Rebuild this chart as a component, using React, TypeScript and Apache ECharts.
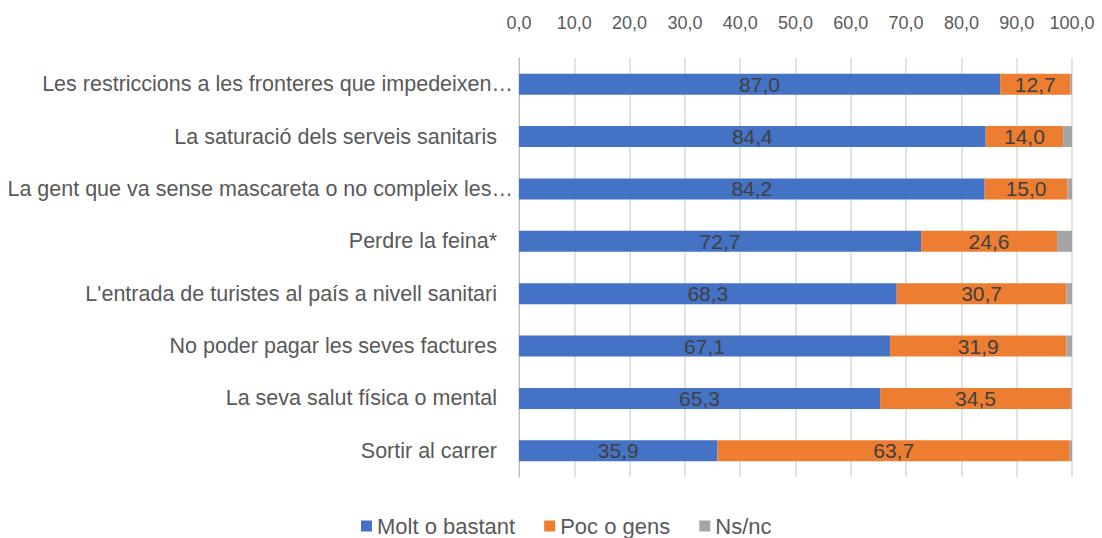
import React, { useEffect, useRef } from "react";
import * as echarts from "echarts";

const categories = [
  "Les restriccions a les fronteres que impedeixen…",
  "La saturació dels serveis sanitaris",
  "La gent que va sense mascareta o no compleix les…",
  "Perdre la feina*",
  "L'entrada de turistes al país a nivell sanitari",
  "No poder pagar les seves factures",
  "La seva salut física o mental",
  "Sortir al carrer",
];
const moltValues = [87.0, 84.4, 84.2, 72.7, 68.3, 67.1, 65.3, 35.9];
const pocValues = [12.7, 14.0, 15.0, 24.6, 30.7, 31.9, 34.5, 63.7];
const nsValues = [0.3, 1.6, 0.8, 2.7, 1.0, 1.0, 0.2, 0.4];
const seriesNames = ["Molt o bastant", "Poc o gens", "Ns/nc"];
const colors = ["#4472C4", "#ED7D31", "#A5A5A5"];

const FONT = "'Liberation Sans', Arial, sans-serif";
const fmt = (v: number) => v.toFixed(1).replace(".", ",");

export default function App() {
  const ref = useRef<HTMLDivElement>(null);
  useEffect(() => {
    if (!ref.current) return;
    const chart = echarts.init(ref.current, undefined, { renderer: "svg" });
    const label = {
      show: true,
      position: "inside",
      color: "#404040",
      fontSize: 21,
      fontFamily: FONT,
      formatter: (p: any) => fmt(p.value),
    };
    chart.setOption({
      animation: false,
      textStyle: { fontFamily: FONT },
      color: colors,
      grid: { left: 519, right: 30, top: 58, bottom: 61, containLabel: false },
      legend: {
        data: seriesNames,
        left: 356,
        top: 510,
        itemWidth: 11,
        itemHeight: 11,
        itemGap: 29,
        icon: "rect",
        textStyle: { color: "#595959", fontSize: 22, fontFamily: FONT },
      },
      xAxis: {
        type: "value",
        position: "top",
        min: 0,
        max: 100,
        interval: 10,
        axisLine: { show: false },
        axisTick: { show: false },
        axisLabel: {
          color: "#595959",
          fontSize: 18,
          fontFamily: FONT,
          margin: 26,
          formatter: (v: number) => fmt(v),
        },
        splitLine: { show: true, lineStyle: { color: "#D9D9D9", width: 1.5 } },
      },
      yAxis: {
        type: "category",
        data: categories,
        inverse: true,
        axisLine: { show: true, lineStyle: { color: "#BFBFBF" } },
        axisTick: { show: false },
        axisLabel: {
          color: "#595959",
          fontSize: 21.5,
          fontFamily: FONT,
          margin: 6,
          formatter: (v: string) => (v.endsWith("…") ? `{e|${v}}` : `{n|${v}}`),
          rich: {
            e: { color: "#595959", fontSize: 21.5, fontFamily: FONT },
            n: { color: "#595959", fontSize: 21.5, fontFamily: FONT, padding: [0, 16, 0, 0] },
          },
        },
      },
      series: [
        { name: seriesNames[0], type: "bar", stack: "t", data: moltValues, barWidth: 21, label },
        { name: seriesNames[1], type: "bar", stack: "t", data: pocValues, barWidth: 21, label },
        { name: seriesNames[2], type: "bar", stack: "t", data: nsValues, barWidth: 21 },
      ],
    });
    return () => chart.dispose();
  }, []);
  return <div ref={ref} style={{ width: 1102, height: 538, position: "absolute", left: 0, top: 0 }} />;
}
